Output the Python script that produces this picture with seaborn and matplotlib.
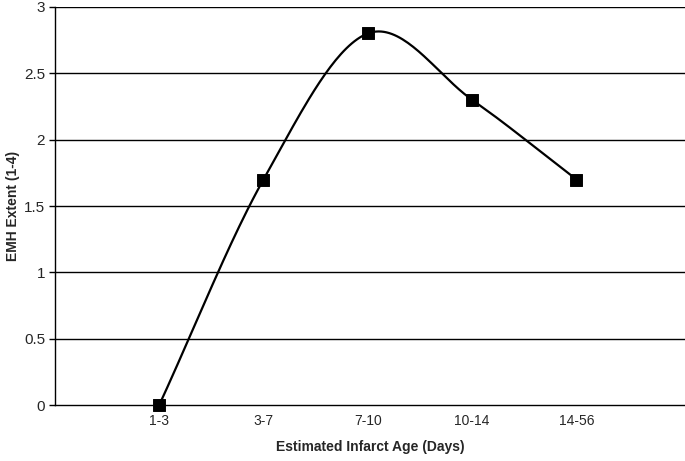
import numpy as np
import pandas as pd
import seaborn as sns
import matplotlib
matplotlib.use("Agg")
import matplotlib.pyplot as plt

# data
categories = ["1-3", "3-7", "7-10", "10-14", "14-56"]
emh_extent = [0.0, 1.7, 2.8, 2.3, 1.7]

sns.set_style("white")
plt.rcParams["font.family"] = ["Liberation Sans", "DejaVu Sans"]

df = pd.DataFrame({"age": categories, "emh": emh_extent})
df["pos"] = np.arange(1, len(df) + 1)

# Excel-style smoothed line: Catmull-Rom through the points
def catmull_rom(x, y, n=40):
    px = np.concatenate([[2 * x[0] - x[1]], x, [2 * x[-1] - x[-2]]])
    py = np.concatenate([[2 * y[0] - y[1]], y, [2 * y[-1] - y[-2]]])
    xs, ys = [], []
    t = np.linspace(0, 1, n)
    for i in range(1, len(px) - 2):
        for p, out in ((px, xs), (py, ys)):
            p0, p1, p2, p3 = p[i - 1], p[i], p[i + 1], p[i + 2]
            out.append(0.5 * ((2 * p1) + (-p0 + p2) * t
                              + (2 * p0 - 5 * p1 + 4 * p2 - p3) * t ** 2
                              + (-p0 + 3 * p1 - 3 * p2 + p3) * t ** 3))
    return np.concatenate(xs), np.concatenate(ys)

sx, sy = catmull_rom(df["pos"].to_numpy(float), df["emh"].to_numpy(float))
smooth = pd.DataFrame({"x": sx, "y": sy})

fig = plt.figure(figsize=(6.85, 4.61), dpi=100)
ax = fig.add_axes([0.080, 0.121, 0.92, 0.864])

for yv in np.arange(0.5, 3.01, 0.5):
    ax.axhline(yv, color="black", lw=1.0, zorder=1)

sns.lineplot(data=smooth, x="x", y="y", ax=ax, color="black", lw=1.6,
             sort=False, estimator=None, zorder=2)
sns.scatterplot(data=df, x="pos", y="emh", ax=ax, marker="s", s=70,
                color="black", edgecolor="black", zorder=3, clip_on=False)

ax.set_xlim(0, 6.04)
ax.set_ylim(0, 3)
ax.set_xticks(df["pos"])
ax.set_xticklabels(categories)
ax.set_yticks(np.arange(0, 3.01, 0.5))
ax.set_yticklabels(["0", "0.5", "1", "1.5", "2", "2.5", "3"])
ax.tick_params(axis="x", length=0, labelsize=10, pad=6)
ax.tick_params(axis="y", length=4, width=1, direction="out", labelsize=11,
               left=True, color="black", pad=3)

for side in ["top", "right"]:
    ax.spines[side].set_visible(False)
for side in ["left", "bottom"]:
    ax.spines[side].set_color("black")
    ax.spines[side].set_linewidth(1.0)

ax.set_xlabel("Estimated Infarct Age (Days)", fontsize=10, fontweight="bold",
              labelpad=9)
ax.set_ylabel("EMH Extent (1-4)", fontsize=10, fontweight="bold", labelpad=3)

fig.savefig("out.png", dpi=100)
